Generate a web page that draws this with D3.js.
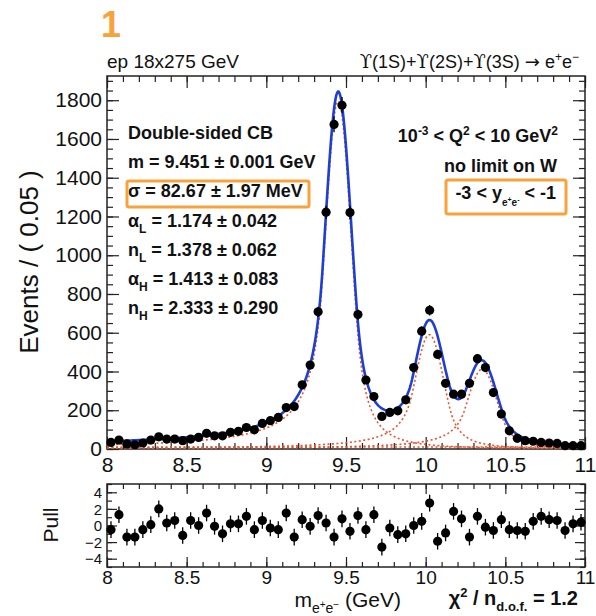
<!DOCTYPE html>
<html>
<head>
<meta charset="utf-8">
<title>Upsilon -> e+e- mass fit</title>
<style>
  body { margin: 0; background: #fff; }
  svg text { font-family: "Liberation Sans", Arial, Helvetica, sans-serif; fill: #111; }
</style>
</head>
<body>
<div id="chart"></div>
<script src="https://cdn.jsdelivr.net/npm/d3@7"></script>
<script>

var width = 596, height = 616;

// histogram: 60 bins of 0.05 GeV between 8 and 11 GeV
var massRange = [8, 11];
var binWidth = 0.05;
var counts = [34, 46, 26, 22, 31, 46, 63, 51, 51, 43,
              51, 60, 81, 68, 68, 86, 91, 111, 99, 132,
              146, 163, 214, 219, 331, 433, 708, 1222, 1675, 1774,
              1220, 694, 356, 271, 168, 189, 197, 254, 420, 608,
              716, 488, 339, 283, 283, 339, 466, 420, 291, 180,
              94, 55, 43, 40, 34, 31, 29, 17, 17, 17];
var pulls = [-0.5, 1.3, -1.4, -1.4, -0.5, 0.1, 2.0, 0.3, 0.6, -1.2,
             0.6, 0.0, 1.5, -0.1, -1.0, 0.2, 0.2, 1.1, -0.5, 0.6,
             -0.3, -0.5, 1.5, -1.4, 0.7, -0.1, 1.2, 0.3, -1.4, 0.8,
             -0.7, 1.2, -0.5, 1.3, -2.6, -0.3, -1.1, -1.0, 0.0, 0.5,
             2.7, -1.9, -0.9, 1.7, 0.8, -1.4, 1.1, -0.2, -0.6, 0.7,
             -0.5, -0.6, -0.7, 0.5, 1.1, 0.7, 0.6, -0.6, 0.2, 0.4];

// fit model: one double-sided CB per state + flat background
var peakMass = [9.451, 10.023, 10.355];
var peakSigma = [0.08267, 0.0895, 0.0925];
var peakNorm = [1795, 590, 412];
var alphaL = 1.174, nL = 1.378, alphaH = 1.413, nH = 2.333;
var bkgLevel = 10;

var xTicks = [8, 8.5, 9, 9.5, 10, 10.5, 11];
var yTicks = [0, 200, 400, 600, 800, 1000, 1200, 1400, 1600, 1800];
var pullTicks = [-4, -2, 0, 2, 4];

var orange = "#f7a23b";
var blue = "#1d3fd3";
var red = "#e8532d";

var svg = d3.select('#chart').append('svg')
  .attr('width', width).attr('height', height);

var x = d3.scaleLinear().domain(massRange).range([107, 585]);
var y = d3.scaleLinear().domain([0, 1925]).range([449, 76]);
var yp = d3.scaleLinear().domain([-5, 5]).range([567, 484]);

var binCenters = counts.map(function(c, i) { return massRange[0] + binWidth * (i + 0.5); });

function dscb(t) {
  if (t < -alphaL) {
    var a = nL / alphaL;
    return Math.pow(a, nL) * Math.exp(-alphaL * alphaL / 2) * Math.pow(a - alphaL - t, -nL);
  }
  if (t > alphaH) {
    var b = nH / alphaH;
    return Math.pow(b, nH) * Math.exp(-alphaH * alphaH / 2) * Math.pow(b - alphaH + t, -nH);
  }
  return Math.exp(-t * t / 2);
}
function peak(k, m) { return peakNorm[k] * dscb((m - peakMass[k]) / peakSigma[k]); }

var grid = d3.range(8, 11.0001, 0.005);

svg.append('clipPath').attr('id', 'clipMain')
  .append('rect').attr('x', 107).attr('y', 76).attr('width', 478).attr('height', 373);

// ---- frame with ticks on all four sides (ROOT style, ticks inward)
function frameAxes(g, ys, yT, yMinorT, bottomY, topY, major, minor, fsX, fsY, xPad, labelFmt) {
  var gx = g.append('g').attr('class', 'xbottom').attr('transform', 'translate(0,' + bottomY + ')');
  gx.call(d3.axisBottom(x).tickValues(xTicks).tickSize(-major).tickPadding(xPad).tickFormat(d3.format('~g')));
  gx.append('g').call(d3.axisBottom(x).tickValues(d3.range(8, 11.001, 0.1)).tickSize(-minor).tickFormat(''));
  var gt = g.append('g').attr('transform', 'translate(0,' + topY + ')');
  gt.call(d3.axisTop(x).tickValues(xTicks).tickSize(-major).tickFormat(''));
  gt.append('g').call(d3.axisTop(x).tickValues(d3.range(8, 11.001, 0.1)).tickSize(-minor).tickFormat(''));
  var gy = g.append('g').attr('class', 'yleft').attr('transform', 'translate(107,0)');
  gy.call(d3.axisLeft(ys).tickValues(yT).tickSize(-major).tickPadding(5).tickFormat(labelFmt));
  gy.append('g').call(d3.axisLeft(ys).tickValues(yMinorT).tickSize(-minor).tickFormat(''));
  var gr = g.append('g').attr('transform', 'translate(585,0)');
  gr.call(d3.axisRight(ys).tickValues(yT).tickSize(-major).tickFormat(''));
  gr.append('g').call(d3.axisRight(ys).tickValues(yMinorT).tickSize(-minor).tickFormat(''));
  g.selectAll('.domain').remove();
  g.selectAll('.tick line').attr('stroke', '#222').attr('stroke-width', 1.2);
  g.selectAll('.tick text').attr('fill', '#111');
  g.selectAll('.xbottom > .tick text').style('font-size', fsX + 'px');
  g.selectAll('.yleft > .tick text').style('font-size', fsY + 'px');
  g.append('rect').attr('x', 107).attr('y', topY).attr('width', 478).attr('height', bottomY - topY)
    .attr('fill', 'none').attr('stroke', '#222').attr('stroke-width', 1.5);
}

// ---- main panel
var main = svg.append('g');
frameAxes(main, y, yTicks, d3.range(0, 1925, 50), 449, 76, 12, 6, 21, 21, 8, function(d) { return d; });

var curves = main.append('g').attr('clip-path', 'url(#clipMain)');
var line = d3.line().x(function(d) { return x(d[0]); }).y(function(d) { return y(d[1]); });

curves.append('path')
  .attr('d', line(grid.map(function(m) { return [m, bkgLevel]; })))
  .attr('fill', 'none').attr('stroke', red).attr('stroke-width', 1.6).attr('stroke-dasharray', '2,2.5');
peakMass.forEach(function(pm, k) {
  curves.append('path')
    .attr('d', line(grid.map(function(m) { return [m, peak(k, m)]; })))
    .attr('fill', 'none').attr('stroke', red).attr('stroke-width', 1.6).attr('stroke-dasharray', '2,2.5');
});
curves.append('path')
  .attr('d', line(grid.map(function(m) { return [m, bkgLevel + peak(0, m) + peak(1, m) + peak(2, m)]; })))
  .attr('fill', 'none').attr('stroke', blue).attr('stroke-width', 2.6);

var pts = main.append('g');
pts.selectAll('line.err').data(counts).enter().append('line')
  .attr('x1', function(d, i) { return x(binCenters[i]); })
  .attr('x2', function(d, i) { return x(binCenters[i]); })
  .attr('y1', function(d) { return y(d + Math.sqrt(d)); })
  .attr('y2', function(d) { return y(Math.max(0, d - Math.sqrt(d))); })
  .attr('stroke', '#000').attr('stroke-width', 1.3);
pts.selectAll('circle').data(counts).enter().append('circle')
  .attr('cx', function(d, i) { return x(binCenters[i]); })
  .attr('cy', function(d) { return y(d); })
  .attr('r', 4.6).attr('fill', '#000');

// ---- pull panel
var pp = svg.append('g');
frameAxes(pp, yp, pullTicks, d3.range(-5, 5.01, 1), 567, 484, 10, 5, 19, 15, 3, d3.format('~g'));
pp.selectAll('.yleft > .tick text').attr('dy', '0.34em');
pp.selectAll('line.err').data(pulls).enter().append('line')
  .attr('x1', function(d, i) { return x(binCenters[i]); })
  .attr('x2', function(d, i) { return x(binCenters[i]); })
  .attr('y1', function(d) { return yp(d + 1); })
  .attr('y2', function(d) { return yp(d - 1); })
  .attr('stroke', '#000').attr('stroke-width', 1.3);
pp.selectAll('circle').data(pulls).enter().append('circle')
  .attr('cx', function(d, i) { return x(binCenters[i]); })
  .attr('cy', function(d) { return yp(d); })
  .attr('r', 4.6).attr('fill', '#000');

// ---- texts
svg.append('text').attr('x', 101).attr('y', 37).text('1')
  .style('font-size', '36px').style('font-weight', 'bold').style('fill', orange);
svg.append('text').attr('x', 107).attr('y', 68).text('ep 18x275 GeV').style('font-size', '19px');

var rt = svg.append('text').attr('x', 579).attr('y', 68).attr('text-anchor', 'end').style('font-size', '18px');
['1S', '2S', '3S'].forEach(function(s, i) {
  rt.append('tspan').style('font-family', '"DejaVu Serif", serif').text('\u03D2');
  rt.append('tspan').text('(' + s + ')' + (i < 2 ? '+' : ' '));
});
rt.append('tspan').style('font-family', '"DejaVu Sans", sans-serif').text('\u2192');
rt.append('tspan').text(' e');
rt.append('tspan').attr('dy', -7).style('font-size', '12px').text('+');
rt.append('tspan').attr('dy', 7).text('e');
rt.append('tspan').attr('dy', -7).style('font-size', '12px').text('\u2212');

svg.append('text').attr('transform', 'translate(38,262) rotate(-90)').attr('text-anchor', 'middle')
  .style('font-size', '26px').text('Events / ( 0.05 )');
svg.append('text').attr('transform', 'translate(58,525) rotate(-90)').attr('text-anchor', 'middle')
  .style('font-size', '21px').text('Pull');

var xt = svg.append('text').attr('x', 401).attr('y', 607).attr('text-anchor', 'end').style('font-size', '21px');
xt.append('tspan').text('m');
xt.append('tspan').attr('dy', 6).style('font-size', '14px').text('e');
xt.append('tspan').attr('dy', -5).style('font-size', '10px').text('+');
xt.append('tspan').attr('dy', 5).style('font-size', '14px').text('e');
xt.append('tspan').attr('dy', -5).style('font-size', '10px').text('\u2212');
xt.append('tspan').attr('dy', -1).text(' (GeV)');

var chi = svg.append('text').attr('x', 578).attr('y', 605).attr('text-anchor', 'end')
  .style('font-size', '20px').style('font-weight', 'bold');
chi.append('tspan').text('\u03C7');
chi.append('tspan').attr('dy', -8).style('font-size', '13px').text('2');
chi.append('tspan').attr('dy', 8).text(' / n');
chi.append('tspan').attr('dy', 6).style('font-size', '13px').text('d.o.f.');
chi.append('tspan').attr('dy', -6).text(' = 1.2');

// fit result legend
var legendRows = [
  ['Double-sided CB', '', ''],
  ['m', '', ' = 9.451 \u00B1 0.001 GeV'],
  ['\u03C3', '', ' = 82.67 \u00B1 1.97 MeV'],
  ['\u03B1', 'L', ' = 1.174 \u00B1 0.042'],
  ['n', 'L', ' = 1.378 \u00B1 0.062'],
  ['\u03B1', 'H', ' = 1.413 \u00B1 0.083'],
  ['n', 'H', ' = 2.333 \u00B1 0.290']
];
var leg = svg.append('g');
legendRows.forEach(function(r, i) {
  var t = leg.append('text').attr('x', 128).attr('y', 139 + i * 29.2)
    .style('font-size', '18px').style('font-weight', 'bold');
  t.append('tspan').text(r[0]);
  if (r[1]) {
    t.append('tspan').attr('dy', 6).style('font-size', '12px').text(r[1]);
    t.append('tspan').attr('dy', -6).text(r[2]);
  } else {
    t.append('tspan').text(r[2]);
  }
});
leg.append('rect').attr('x', 127).attr('y', 181).attr('width', 182).attr('height', 26).attr('rx', 2)
  .attr('fill', 'none').attr('stroke', orange).attr('stroke-width', 3);

var q = svg.append('text').attr('x', 558).attr('y', 142).attr('text-anchor', 'end')
  .style('font-size', '18px').style('font-weight', 'bold');
q.append('tspan').text('10');
q.append('tspan').attr('dy', -7).style('font-size', '12px').text('-3');
q.append('tspan').attr('dy', 7).text(' < Q');
q.append('tspan').attr('dy', -7).style('font-size', '12px').text('2');
q.append('tspan').attr('dy', 7).text(' < 10 GeV');
q.append('tspan').attr('dy', -7).style('font-size', '12px').text('2');

svg.append('text').attr('x', 557).attr('y', 172).attr('text-anchor', 'end')
  .style('font-size', '18px').style('font-weight', 'bold').text('no limit on W');

var yl = svg.append('text').attr('x', 556).attr('y', 199).attr('text-anchor', 'end')
  .style('font-size', '18px').style('font-weight', 'bold');
yl.append('tspan').text('-3 < y');
yl.append('tspan').attr('dy', 7).style('font-size', '10px').text('e');
yl.append('tspan').attr('dy', -4).style('font-size', '7px').text('+');
yl.append('tspan').attr('dy', 4).style('font-size', '10px').text('e');
yl.append('tspan').attr('dy', -4).style('font-size', '7px').text('-');
yl.append('tspan').attr('dy', -3).text('  < -1');
svg.append('rect').attr('x', 446).attr('y', 180).attr('width', 120).attr('height', 34).attr('rx', 2)
  .attr('fill', 'none').attr('stroke', orange).attr('stroke-width', 3);

</script>
</body>
</html>
